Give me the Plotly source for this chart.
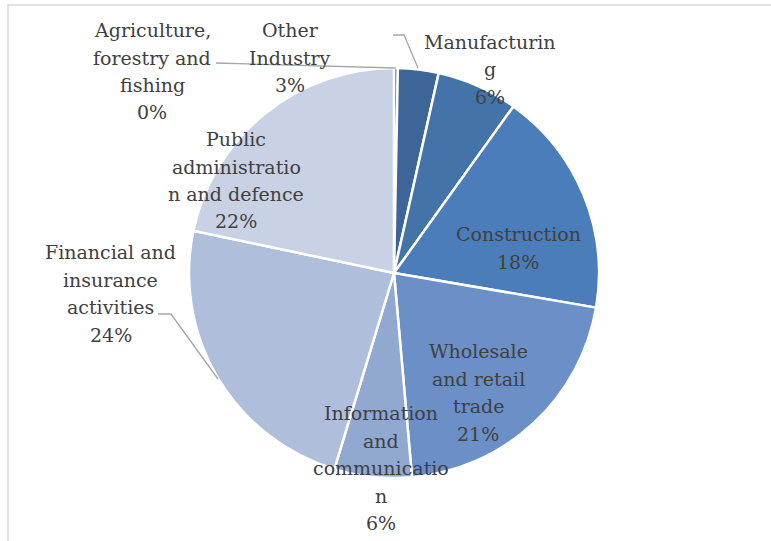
import plotly.graph_objects as go

# Share of output by industry
categories = [
    "Agriculture, forestry and fishing",
    "Other Industry",
    "Manufacturing",
    "Construction",
    "Wholesale and retail trade",
    "Information and communication",
    "Financial and insurance activities",
    "Public administration and defence",
]
values = [0.3, 3.2, 6.4, 17.8, 20.9, 6.1, 23.6, 21.7]

# Wrapped label text as it appears on the chart
label_lines = [
    ["Agriculture,", "forestry and", "fishing"],
    ["Other", "Industry"],
    ["Manufacturin", "g"],
    ["Construction"],
    ["Wholesale", "and retail", "trade"],
    ["Information", "and", "communicatio", "n"],
    ["Financial and", "insurance", "activities"],
    ["Public", "administratio", "n and defence"],
]

colors = ["#2c4c74", "#3d6597", "#4473a9", "#4a7dba", "#6b8fc7",
          "#91a8d1", "#afbedb", "#c9d2e5"]

W, H = 771, 541
FONT = "DejaVu Serif"
TXT = "#404040"
LINE_H = 27.5

# label block positions in pixels: (centre x, first line centre y)
label_pos = [(152, 30), (290, 30), (490, 42), (518, 234),
             (478, 351), (381, 413), (111, 252), (236, 139)]


def px(x):
    return x / W


def py(y):
    return 1 - y / H


total = sum(values)
pct_text = [f"{round(v / total * 100)}%" for v in values]

cx, cy, r = 394, 273, 205

fig = go.Figure(go.Pie(
    labels=categories,
    values=values,
    sort=False,
    direction="clockwise",
    rotation=0,
    marker=dict(colors=colors, line=dict(color="white", width=2.5)),
    textinfo="none",
    hoverinfo="label+percent",
    showlegend=False,
    domain=dict(x=[px(cx - r), px(cx + r)], y=[py(cy + r), py(cy - r)]),
))

annotations = []
for lines, pct, (x, y0) in zip(label_lines, pct_text, label_pos):
    for i, line in enumerate(lines + [pct]):
        annotations.append(dict(
            x=px(x), y=py(y0 + i * LINE_H), xref="paper", yref="paper",
            text=line, showarrow=False, xanchor="center", yanchor="middle",
            font=dict(family=FONT, size=19, color=TXT),
        ))

leader = dict(color="#a6a6a6", width=1.3)


def path(points):
    return "M " + " L ".join(f"{px(a)},{py(b)}" for a, b in points)


shapes = [
    # chart frame
    dict(type="rect", xref="paper", yref="paper",
         x0=px(8), y0=py(H + 5), x1=px(W + 5), y1=py(5),
         line=dict(color="#d9d9d9", width=1.5), layer="below"),
    # leader lines
    dict(type="path", xref="paper", yref="paper",
         path=path([(216, 63), (396, 68)]), line=leader),
    dict(type="path", xref="paper", yref="paper",
         path=path([(393, 35), (404, 35), (418, 68)]), line=leader),
    dict(type="path", xref="paper", yref="paper",
         path=path([(158, 314), (171, 314), (218, 379)]), line=leader),
]

fig.update_layout(
    width=W, height=H,
    margin=dict(l=0, r=0, t=0, b=0),
    paper_bgcolor="white", plot_bgcolor="white",
    font=dict(family=FONT, color=TXT),
    annotations=annotations,
    shapes=shapes,
)

fig.write_html("out.html")
